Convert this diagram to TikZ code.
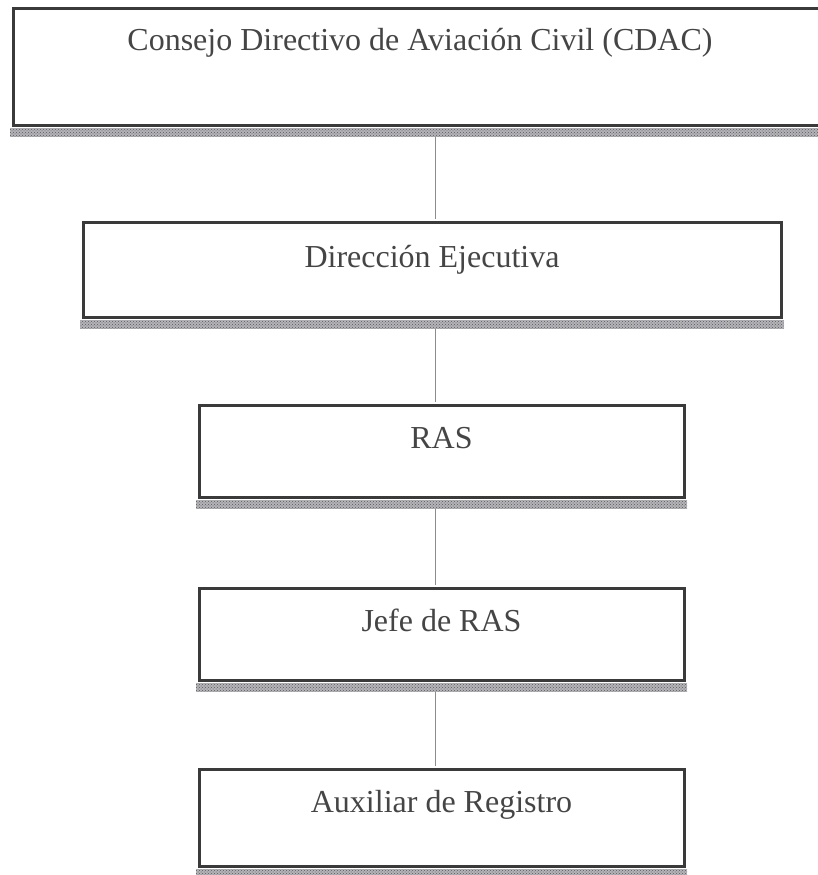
\documentclass[tikz,border=0pt]{standalone}
\usepackage{fontspec}
\setmainfont{Liberation Serif}
\usetikzlibrary{patterns}
\definecolor{ink}{HTML}{3A3A3A}
\definecolor{txt}{HTML}{454545}
\definecolor{conncol}{HTML}{8C8C8C}
\definecolor{shade}{HTML}{B4B4B8}
\begin{document}
\begin{tikzpicture}[x=1pt,y=-1pt,
  orgbox/.style={draw=ink, line width=3pt, fill=white, inner sep=0pt,
    font=\fontsize{32}{38}\selectfont, text=txt},
  band/.style={fill=shade},
  bandpat/.style={pattern=crosshatch dots, pattern color=gray!70!black},
  conn/.style={draw=conncol, line width=1pt}]
\useasboundingbox (0,0) rectangle (817,875);
\coordinate (cx) at (435,0);

\node[orgbox, minimum width=814pt, text height=42pt, text depth=74pt] (cdac) at (420,67)
  {Consejo Directivo de Aviación Civil (CDAC)};
\node[orgbox, minimum width=698pt, text height=45pt, text depth=50pt] (dir) at (432,269.5)
  {Dirección Ejecutiva};
\node[orgbox, minimum width=485pt, text height=43pt, text depth=49pt] (ras) at (441.5,451)
  {RAS};
\node[orgbox, minimum width=485pt, text height=43pt, text depth=49pt] (jefe) at (441.5,634)
  {Jefe de RAS};
\node[orgbox, minimum width=485pt, text height=43pt, text depth=54pt] (aux) at (441.5,817.5)
  {Auxiliar de Registro};

\foreach \n in {cdac,dir,ras,jefe,aux}{
  \fill[band] ([xshift=-1.5pt,yshift=-1.5pt]\n.south west) rectangle ([xshift=1.5pt,yshift=-10pt]\n.south east);
  \fill[bandpat] ([xshift=-1.5pt,yshift=-1.5pt]\n.south west) rectangle ([xshift=1.5pt,yshift=-10pt]\n.south east);
}

\foreach \a/\b in {cdac/dir,dir/ras,ras/jefe,jefe/aux}{
  \draw[conn] ([yshift=-10pt]\a.south -| cx) -- ([yshift=1.5pt]\b.north -| cx);
}
\end{tikzpicture}
\end{document}
